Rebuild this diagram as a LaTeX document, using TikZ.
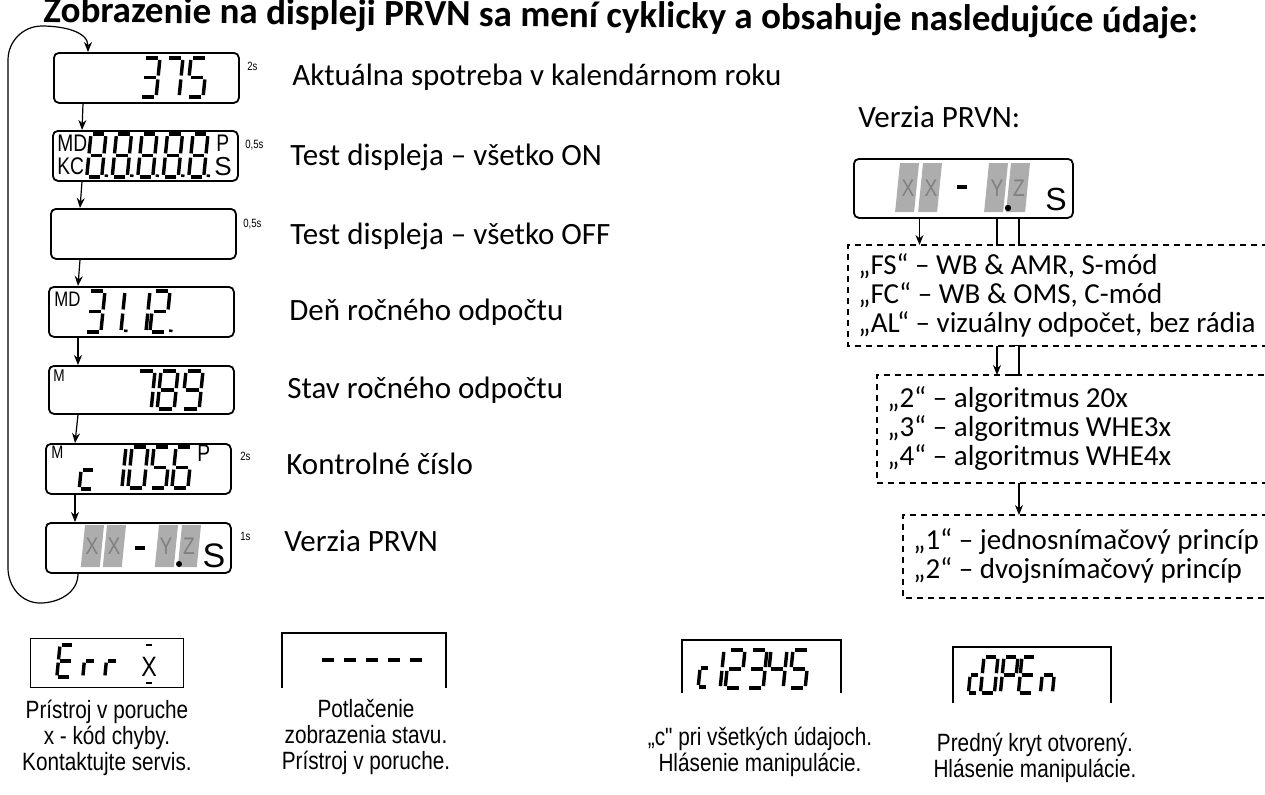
\documentclass[tikz,border=0pt]{standalone}
\usepackage{fontspec}
\setmainfont{Carlito}
\newfontfamily\narrowfont[FakeStretch=0.83]{Liberation Sans}
\newfontfamily\lcdfont[FakeStretch=0.8]{Liberation Sans}
\newfontfamily\plainsans{Liberation Sans}
\usetikzlibrary{arrows.meta, calc}

% seven segment digits, local y runs downwards
\tikzset{
  sg/a/.style={insert path={(0.12,0)--(0.88,0)}},
  sg/b/.style={insert path={(1,0.1)--(1,0.9)}},
  sg/c/.style={insert path={(1,1.1)--(1,1.9)}},
  sg/d/.style={insert path={(0.12,2)--(0.88,2)}},
  sg/e/.style={insert path={(0,1.1)--(0,1.9)}},
  sg/f/.style={insert path={(0,0.1)--(0,0.9)}},
  sg/g/.style={insert path={(0.12,1)--(0.88,1)}},
  sg/p/.style={insert path={(1.3,1.88)--(1.3,2)}},
  pics/lcd/.style={code={\foreach \s in {#1}{\draw[lcdseg, sg/\s];}}},
  pics/lcdblk/.style={code={\fill[black!32] (0,0) -- (1,0) -- (1,2) -- (0,2) -- cycle;}},
  lcdseg/.style={line width=1.7pt, line cap=butt},
}

\begin{document}
\begin{tikzpicture}[x=0.5pt, y=-0.5pt,
  disp/.style={draw, line width=0.9pt, rounded corners=2.5pt, minimum width=92.5pt, minimum height=25pt, anchor=north west, inner sep=0pt},
  slot/.style={anchor=north west, inner sep=0pt},
  arr/.style={-{Stealth[length=5pt, width=4pt]}, line width=0.6pt},
  tick/.style={line width=0.6pt},
  dig/.style 2 args={xslant=0.1, xscale=#1, yscale=#2},
  blkchar/.style={text=black!50, font=\lcdfont\fontsize{12}{12}\selectfont, inner sep=0pt},
  desc/.style={anchor=base west, inner sep=0pt, font=\fontsize{15.5}{18}\selectfont},
  secs/.style={anchor=base west, inner sep=0pt, font=\lcdfont\fontsize{6}{6}\selectfont},
  sym/.style={anchor=north west, inner sep=0pt, font=\lcdfont\fontsize{#1}{#1}\selectfont},
  dashline/.style={line width=0.7pt, dash pattern=on 3pt off 2.5pt},
  optbox/.style={anchor=north west, align=flush left, text width=205pt, inner xsep=5pt, inner ysep=0pt, font=\fontsize{14.5}{14.5}\selectfont},
  note/.style={align=center, font=\narrowfont\fontsize{12.5}{13}\selectfont},
]
  \useasboundingbox (0,0) rectangle (1265,794);
  \clip (0,0) rectangle (1265,794);

  % Title (cut at the top)
  \node[anchor=base west, inner sep=0pt, rotate=-0.55, font=\bfseries\fontsize{18.5}{20}\selectfont] (title) at (43,22)
    {Zobrazenie na displeji PRVN sa mení cyklicky a obsahuje nasledujúce údaje:};

  % Displays
  \node[disp] (d1) at (53,52) {};
  \node[disp] (d2) at (52,130) {};
  \node[disp] (d3) at (50,208) {};
  \node[disp] (d4) at (48,286) {};
  \node[disp, minimum height=24pt] (d5) at (48,365) {};
  \node[disp] (d6) at (45,443) {};
  \node[disp] (d7) at (45,522) {};

  % 375
  \pic[dig={16}{19.5}] at (144,58) {lcd={a,b,c,d,g}};
  \pic[dig={16}{19.5}] at (167,58) {lcd={a,b,c}};
  \pic[dig={16}{19.5}] at (191,58) {lcd={a,f,g,c,d}};

  % 8.8.8.8.8.
  \node[sym=12] (md2) at (57,135) {MD};
  \node[sym=12] (kc2) at (57,157) {KC};
  \pic[dig={15}{21.5}] at (91,134) {lcd={a,b,c,d,e,f,g,p}};
  \pic[dig={15}{21.5}] at (116.5,134) {lcd={a,b,c,d,e,f,g,p}};
  \pic[dig={15}{21.5}] at (142,134) {lcd={a,b,c,d,e,f,g,p}};
  \pic[dig={15}{21.5}] at (167.5,134) {lcd={a,b,c,d,e,f,g,p}};
  \pic[dig={15}{21.5}] at (193,134) {lcd={a,b,c,d,e,f,g,p}};
  \node[sym=12] (p2) at (216,135) {P};
  \node[anchor=north west, inner sep=0pt, font=\plainsans\fontsize{13}{13}\selectfont] (s2) at (214,157) {S};

  % 31.12.
  \node[sym=10.5] (md4) at (54,292) {MD};
  \pic[dig={16}{20.5}] at (89,291) {lcd={a,b,c,d,g}};
  \pic[dig={16}{20.5}] at (109,291) {lcd={b,c,p}};
  \pic[dig={16}{20.5}] at (134,291) {lcd={b,c}};
  \pic[dig={16}{20.5}] at (154,291) {lcd={a,b,g,e,d,p}};

  % 789
  \node[sym=8.5] (m5) at (53,369) {M};
  \pic[dig={17}{19}] at (138,371) {lcd={a,b,c}};
  \pic[dig={17}{19}] at (161,371) {lcd={a,b,c,d,e,f,g}};
  \pic[dig={17}{19}] at (186,371) {lcd={a,b,c,d,f,g}};

  % c 1056
  \node[sym=9] (m6) at (51,446) {M};
  \pic[dig={13}{19}] at (83,451) {lcd={g,e,d}};
  \pic[dig={16}{20.5}] at (110,447) {lcd={b,c}};
  \pic[dig={16}{20.5}] at (132,447) {lcd={a,b,c,d,e,f}};
  \pic[dig={16}{20.5}] at (154,447) {lcd={a,f,g,c,d}};
  \pic[dig={16}{20.5}] at (176,447) {lcd={a,f,g,e,d,c}};
  \node[sym=12] (p6) at (197,445) {P};

  % XX-Y.Z
  \pic[dig={19}{21}] at (85,525) {lcdblk};
  \pic[dig={19}{21}] at (107,525) {lcdblk};
  \pic[dig={19}{21}] at (159,525) {lcdblk};
  \pic[dig={19}{21}] at (182,525) {lcdblk};
  \node[blkchar] (b7x1) at (92,546) {X};
  \node[blkchar] (b7x2) at (114,546) {X};
  \node[blkchar] (b7y) at (166,546) {Y};
  \node[blkchar] (b7z) at (189,546) {Z};
  \draw[lcdseg] (135,548) -- (145,548);
  \fill (179,564) circle[radius=1.5pt];
  \node[inner sep=0pt, font=\plainsans\fontsize{17}{17}\selectfont] (s7) at (214,556) {S};

  % Cycle arrows
  \draw[arr] ([xshift=15pt]d1.south west) -- ([xshift=15pt]d2.north west);
  \draw[arr] ([xshift=15pt]d2.south west) -- ([xshift=15pt]d3.north west);
  \draw[arr] ([xshift=15pt]d3.south west) -- ([xshift=15pt]d4.north west);
  \draw[arr] ([xshift=15pt]d4.south west) -- ([xshift=15pt]d5.north west);
  \draw[arr] ([xshift=15pt]d5.south west) -- ([xshift=15pt]d6.north west);
  \draw[arr] ([xshift=15pt]d6.south west) -- ([xshift=15pt]d7.north west);
  \draw[arr] ([xshift=16.5pt]d7.south west) to[out=-90, in=0] (40,603) to[out=180, in=-90] (8,568)
    -- (8,60) to[out=90, in=180] (42,26) to[out=0, in=90] ([xshift=17.5pt]d1.north west);

  % Durations
  \node[secs] (t1s) at (247,70) {2s};
  \node[secs] (t2s) at (245,148) {0,5s};
  \node[secs] (t3s) at (243,227) {0,5s};
  \node[secs] (t6s) at (240,460) {2s};
  \node[secs] (t7s) at (240,540) {1s};

  % Descriptions
  \node[desc] (t1) at (292,85) {Aktuálna spotreba v kalendárnom roku};
  \node[desc] (t2) at (290,165) {Test displeja – všetko ON};
  \node[desc] (t3) at (290,244) {Test displeja – všetko OFF};
  \node[desc] (t4) at (289,320) {Deň ročného odpočtu};
  \node[desc] (t5) at (287,398) {Stav ročného odpočtu};
  \node[desc] (t6) at (286,474) {Kontrolné číslo};
  \node[desc] (t7) at (284,551) {Verzia PRVN};

  % Version
  \node[desc] (vlab) at (858,127) {Verzia PRVN:};
  \node[disp, minimum width=109.5pt, minimum height=29.5pt] (ver) at (853,158) {};
  \pic[dig={19}{24.5}] at (900,163) {lcdblk};
  \pic[dig={19}{24.5}] at (923,163) {lcdblk};
  \pic[dig={19}{24.5}] at (989,163) {lcdblk};
  \pic[dig={19}{24.5}] at (1011,163) {lcdblk};
  \node[blkchar] (vx1) at (908,188) {X};
  \node[blkchar] (vx2) at (931,188) {X};
  \node[blkchar] (vy) at (997,188) {Y};
  \node[blkchar] (vz) at (1019,188) {Z};
  \draw[lcdseg] (957,187) -- (967,187);
  \fill (1008,208) circle[radius=1.6pt];
  \node[inner sep=0pt, font=\plainsans\fontsize{16}{16}\selectfont] (vs) at (1056,199) {S};

  \node[optbox, minimum height=50pt] (b1) at (848,245)
    {„FS“ – WB \& AMR, S-mód\\„FC“ – WB \& OMS, C-mód\\„AL“ – vizuálny odpočet, bez rádia};
  \node[optbox, minimum height=53.5pt] (b2) at (877,375)
    {„2“ – algoritmus 20x\\„3“ – algoritmus WHE3x\\„4“ – algoritmus WHE4x};
  \node[optbox, minimum height=41pt] (b3) at (903,515)
    {„1“ – jednosnímačový princíp\\„2“ – dvojsnímačový princíp};
  \draw[dashline] (b1.north east) -- (b1.north west) -- (b1.south west) -- (b1.south east);
  \draw[dashline] (b2.north east) -- (b2.north west) -- (b2.south west) -- (b2.south east);
  \draw[dashline] (b3.north east) -- (b3.north west) -- (b3.south west) -- (b3.south east);

  \coordinate (xx) at ($(vx1)!0.5!(vx2)$);
  \draw[arr] (ver.south -| xx) -- (b1.north -| xx);
  \draw[tick] (ver.south -| vy) -- (b1.north -| vy) -- ++(7,0);
  \draw[tick] (ver.south -| vz) -- (b1.north -| vz) -- ++(7,0);
  \draw[arr] (b1.south -| vy) -- (b2.north -| vy);
  \draw[tick] (b1.south -| vz) ++(-5,0) -- ++(5,0) -- (b2.north -| vz) -- ++(-8,0);
  \draw[arr] (b2.south -| vz) -- (b3.north -| vz);

  % Other messages
  \node[slot, draw, line width=0.7pt, minimum width=76.5pt, minimum height=24.5pt] (e1) at (30,638) {};
  \node[slot, minimum width=81.5pt, minimum height=27pt] (e2) at (282,633) {};
  \node[slot, minimum width=79pt, minimum height=26pt] (e3) at (682,640) {};
  \node[slot, minimum width=78.5pt, minimum height=27.5pt] (e4) at (953,647) {};
  \draw[line width=0.7pt] (e2.south west) -- (e2.north west) -- (e2.north east) -- (e2.south east);
  \draw[line width=0.7pt] (e3.south west) -- (e3.north west) -- (e3.north east) -- (e3.south east);
  \draw[line width=0.7pt] (e4.south west) -- (e4.north west) -- (e4.north east) -- (e4.south east);

  % Err X
  \pic[dig={14}{16}] at (60,645) {lcd={a,d,e,f,g}};
  \pic[dig={11}{16}] at (86,645) {lcd={e,g}};
  \pic[dig={11}{16}] at (108,645) {lcd={e,g}};
  \node[inner sep=0pt, font=\narrowfont\fontsize{14}{14}\selectfont] (ex) at (149,667) {X};
  \draw[line width=0.6pt] ([xshift=-1.5pt, yshift=6pt]ex.north) -- ++(6,0);
  \draw[line width=0.6pt] ([xshift=-1.5pt, yshift=-3pt]ex.south) -- ++(6,0);

  % -----
  \foreach \i in {0,...,4}
    \draw[lcdseg] (322+22*\i,660) -- ++(12,0);

  % c12345
  \pic[dig={9}{19}] at (702,649) {lcd={g,e,d}};
  \pic[dig={15}{19}] at (709,650) {lcd={b,c}};
  \pic[dig={16}{19}] at (729,650) {lcd={a,b,g,e,d}};
  \pic[dig={16}{19}] at (751,650) {lcd={a,b,g,c,d}};
  \pic[dig={16}{19}] at (771,650) {lcd={f,g,b,c}};
  \pic[dig={16}{19}] at (793,650) {lcd={a,f,g,c,d}};

  % cOPEn
  \pic[dig={9}{18}] at (972,657) {lcd={g,e,d}};
  \pic[dig={14}{18}] at (984,657) {lcd={a,b,c,d,e,f}};
  \pic[dig={14}{18}] at (1004,657) {lcd={a,b,f,g,e}};
  \pic[dig={14}{18}] at (1022,657) {lcd={a,f,g,e,d}};
  \pic[dig={12}{18}] at (1044,657) {lcd={e,g,c}};

  % Messages
  \node[note] (n1) at (107,738) {Prístroj v poruche\\x - kód chyby.\\Kontaktujte servis.};
  \node[note] (n2) at (366,737) {Potlačenie\\zobrazenia stavu.\\Prístroj v poruche.};
  \node[note] (n3) at (760,752) {„c" pri všetkých údajoch.\\Hlásenie manipulácie.};
  \node[note] (n4) at (1035,758) {Predný kryt otvorený.\\Hlásenie manipulácie.};
\end{tikzpicture}
\end{document}
